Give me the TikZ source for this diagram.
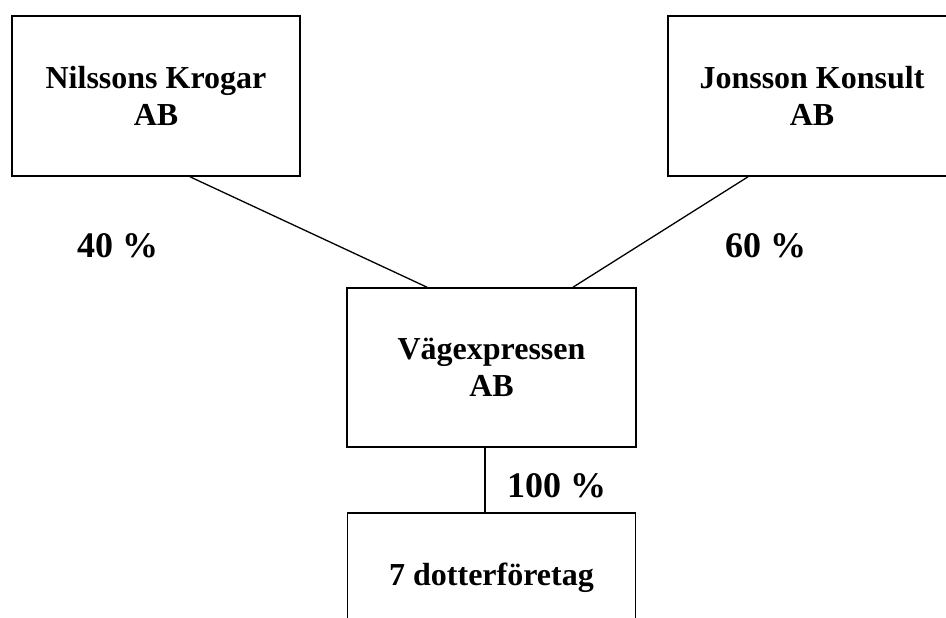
\documentclass[tikz,border=0pt]{standalone}
\usepackage{fontspec}
\setmainfont{Liberation Serif}
\tikzset{
	firma/.style={draw,line width=1.6pt,minimum width=288pt,minimum height=160pt,align=center,inner sep=0pt,font=\fontsize{32}{37}\selectfont\bfseries},
	andel/.style={anchor=base west,inner sep=0pt,font=\fontsize{36}{40}\selectfont\bfseries},
	agare/.style={line width=1.3pt},
}
\begin{document}
\begin{tikzpicture}[x=1pt,y=-1pt]
	\useasboundingbox (0,0) rectangle (946,618);
	\clip (0,0) rectangle (946,618);
	\node[firma] (nilsson) at (156,96) {Nilssons Krogar\\AB};
	\node[firma] (jonsson) at (812,96) {Jonsson Konsult\\AB};
	\node[firma,minimum width=289pt,minimum height=159pt] (vag) at (491.5,367.5) {Vägexpressen\\AB};
	\node[firma,minimum height=130pt,anchor=north] (dotter) at (491.5,512) {7 dotterföretag};
	\draw[agare] ([xshift=34pt]nilsson.south) -- ([xshift=-64.5pt]vag.north);
	\draw[agare] ([xshift=-64pt]jonsson.south) -- ([xshift=81.5pt]vag.north);
	\draw[agare] ([xshift=-6.5pt]vag.south) -- ([xshift=-6.5pt]dotter.north);
	\node[andel] (p40) at (77,257) {40 \%};
	\node[andel] (p60) at (725,257) {60 \%};
	\node[andel] (p100) at (507,497) {100 \%};
\end{tikzpicture}
\end{document}
